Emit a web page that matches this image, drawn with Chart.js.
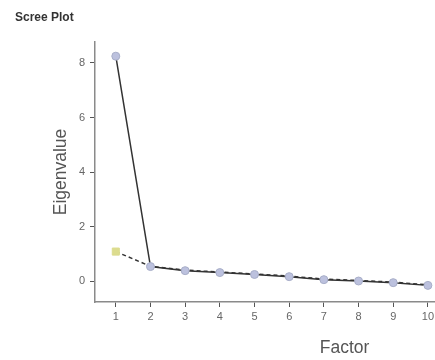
<!DOCTYPE html>
<html>
<head>
<meta charset="utf-8">
<script src="https://cdn.jsdelivr.net/npm/chart.js@4"></script>
<style>
  html, body { margin: 0; padding: 0; background: #fff; overflow: hidden; }
  #wrap { width: 600px; height: 360px; }
</style>
</head>
<body>
<div id="wrap"><canvas id="scree" width="600" height="360"></canvas></div>
<script>
// Scree plot: eigenvalues (solid) and parallel analysis (dashed)
const factors = [1, 2, 3, 4, 5, 6, 7, 8, 9, 10];
const eigenvalues = [8.25, 0.53, 0.38, 0.31, 0.24, 0.16, 0.05, 0.0, -0.06, -0.16];
const parallel = [1.08, 0.54, 0.40, 0.33, 0.26, 0.18, 0.07, 0.02, -0.04, -0.14];
const yTicks = [0, 2, 4, 6, 8];

const font = 'Liberation Sans, Arial, sans-serif';
const axisColor = '#8a8a8a';

function points(values) {
  return factors.map((f, i) => ({ x: f, y: values[i] }));
}

const ctx = document.getElementById('scree').getContext('2d');

const screePlot = new Chart(ctx, {
  type: 'line',
  data: {
    datasets: [{
      label: 'Eigenvalue',
      data: points(eigenvalues),
      borderColor: '#333333',
      borderWidth: 1.5,
      pointStyle: 'circle',
      pointRadius: 4,
      pointBackgroundColor: '#bcc1de',
      pointBorderColor: '#a8aec8',
      pointBorderWidth: 1,
      tension: 0
    }, {
      label: 'Parallel analysis',
      data: points(parallel),
      borderColor: '#333333',
      borderWidth: 1.5,
      borderDash: [4, 3],
      pointStyle: 'rect',
      // the squares sit under the eigenvalue circles, only the first one shows
      pointRadius: c => (c.dataIndex === 0 ? 5 : 0),
      pointBackgroundColor: '#dcdc8e',
      pointBorderColor: '#dcdc8e',
      pointBorderWidth: 1,
      tension: 0
    }]
  },
  options: {
    responsive: false,
    animation: false,
    devicePixelRatio: 1,
    layout: { padding: { left: 15, right: 0, top: 0, bottom: 0 } },
    plugins: {
      legend: { display: false },
      tooltip: { enabled: false },
      title: {
        display: true,
        text: 'Scree Plot',
        align: 'start',
        color: '#333333',
        font: { family: font, size: 12, weight: 'bold' },
        padding: { top: 10, bottom: 17.6 }
      }
    },
    scales: {
      x: {
        type: 'linear',
        min: 0.40,
        max: 14.79,
        afterFit: scale => { scale.height = 58; },
        afterBuildTicks: scale => {
          scale.ticks = scale.ticks.filter(t => Number.isInteger(t.value));
        },
        ticks: {
          stepSize: 1,
          includeBounds: false,
          color: '#666666',
          padding: 3,
          maxRotation: 0,
          font: { family: font, size: 11 }
        },
        grid: { drawOnChartArea: false, drawTicks: true, tickLength: 5, color: '#555555' },
        border: { display: true, color: axisColor, width: 1.5 },
        title: {
          display: true,
          text: 'Factor',
          color: '#555555',
          font: { family: font, size: 17.5 },
          padding: { top: 0, bottom: 1 }
        }
      },
      y: {
        min: -0.77,
        max: 8.77,
        afterFit: scale => { scale.width = 80; },
        afterBuildTicks: scale => {
          scale.ticks = yTicks.map(v => ({ value: v }));
        },
        ticks: {
          color: '#666666',
          padding: 5,
          font: { family: font, size: 11 }
        },
        grid: { drawOnChartArea: false, drawTicks: true, tickLength: 5, color: '#555555' },
        border: { display: true, color: axisColor, width: 1.5 },
        title: {
          display: true,
          text: 'Eigenvalue',
          color: '#555555',
          font: { family: font, size: 17.5 },
          padding: { top: 36, bottom: 0 }
        }
      }
    }
  }
});
</script>
</body>
</html>
